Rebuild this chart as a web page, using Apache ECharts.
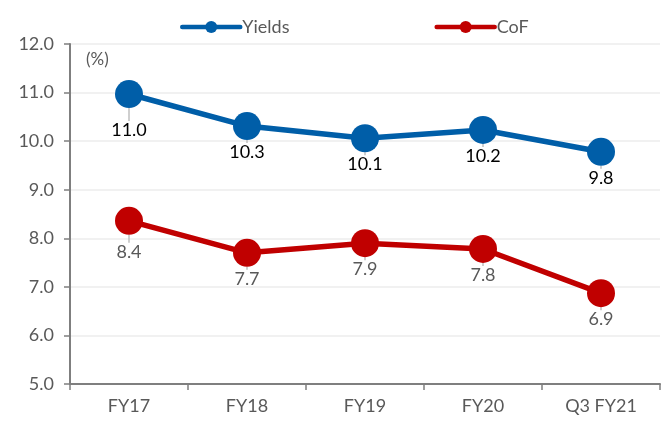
<!DOCTYPE html>
<html>
<head>
<meta charset="utf-8">
<script src="https://cdn.jsdelivr.net/npm/echarts@6/dist/echarts.min.js"></script>
<style>html,body{margin:0;padding:0;background:#fff;}#c{width:665px;height:432px;}</style>
</head>
<body>
<div id="c"></div>
<script>
var categories = ['FY17', 'FY18', 'FY19', 'FY20', 'Q3 FY21'];
var yields = [10.97, 10.31, 10.06, 10.23, 9.78];
var cof = [8.36, 7.70, 7.90, 7.78, 6.87];
var yTicks = { min: 5, max: 12, interval: 1 };

var FONT = 'Lato, "Open Sans", sans-serif';
var chart = echarts.init(document.getElementById('c'));

function mkSeries(name, data, color, labelColor, firstDy) {
  return {
    name: name,
    type: 'line',
    data: data,
    symbol: 'circle',
    symbolSize: 28,
    lineStyle: { width: 5.5, color: color },
    itemStyle: { color: color },
    label: {
      show: true,
      position: 'bottom',
      distance: 3,
      color: labelColor,
      fontFamily: FONT,
      fontSize: 18,
      formatter: function (p) { return p.value.toFixed(1); }
    },
    labelLine: { show: true, lineStyle: { color: '#bfbfbf', width: 1.5 } },
    labelLayout: function (p) {
      return p.dataIndex === 0 ? { dy: firstDy } : {};
    },
    emphasis: { disabled: true },
    animation: false,
    z: name === 'Yields' ? 3 : 2
  };
}

chart.setOption({
  animation: false,
  grid: { left: 70, right: 5, top: 44, bottom: 48 },
  legend: {
    top: 13,
    left: 175,
    itemWidth: 58,
    itemHeight: 15,
    itemGap: 145,
    lineStyle: { width: 4.5, cap: 'round' },
    textStyle: { color: '#595959', fontFamily: FONT, fontSize: 18, padding: [0, 0, 0, -3] },
    data: ['Yields', 'CoF']
  },
  graphic: [{
    type: 'text',
    left: 86,
    top: 51,
    style: { text: '(%)', fill: '#595959', font: '17px ' + FONT }
  }],
  xAxis: {
    type: 'category',
    data: categories,
    boundaryGap: true,
    axisLine: { lineStyle: { color: '#7f7f7f', width: 2 } },
    axisTick: { show: true, length: 6, lineStyle: { color: '#7f7f7f', width: 1.5 } },
    axisLabel: { color: '#595959', fontFamily: FONT, fontSize: 18, margin: 13 }
  },
  yAxis: {
    type: 'value',
    min: yTicks.min,
    max: yTicks.max,
    interval: yTicks.interval,
    axisLine: { show: true, lineStyle: { color: '#7f7f7f', width: 2 } },
    axisTick: { show: true, length: 6, lineStyle: { color: '#7f7f7f', width: 1.5 } },
    splitLine: { lineStyle: { color: '#ececec', width: 1.5 } },
    axisLabel: {
      color: '#595959', fontFamily: FONT, fontSize: 18, margin: 16,
      formatter: function (v) { return v.toFixed(1); }
    }
  },
  series: [
    mkSeries('Yields', yields, '#005ea8', '#000000', 10),
    mkSeries('CoF', cof, '#c00000', '#595959', 5)
  ]
});
</script>
</body>
</html>
